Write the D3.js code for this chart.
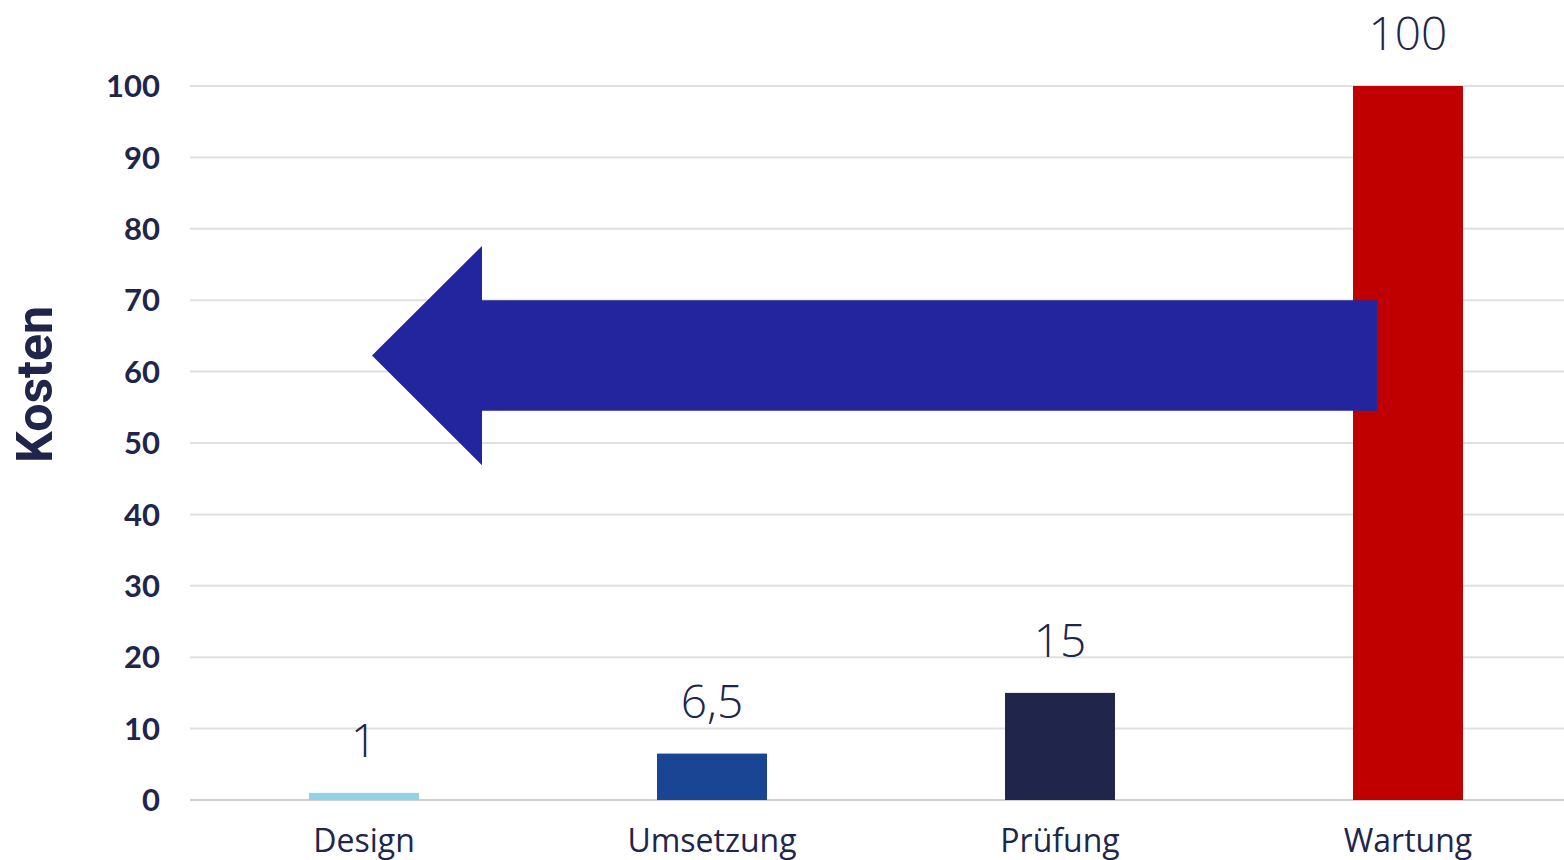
<!DOCTYPE html>
<html>
<head>
<meta charset="utf-8">
<script src="https://cdn.jsdelivr.net/npm/d3@7"></script>
<style>
  body { margin: 0; background: #fff; }
  svg { display: block; }
</style>
</head>
<body>
<div id="chart"></div>
<script>
const width = 1564;
const height = 860;

// Data
const categories = ['Design', 'Umsetzung', 'Prüfung', 'Wartung'];
const values = [1, 6.5, 15, 100];
const valueLabels = ['1', '6,5', '15', '100'];
const barColors = ['#92d2e6', '#1a4494', '#20264b', '#c00000'];
const yTicks = [0, 10, 20, 30, 40, 50, 60, 70, 80, 90, 100];

const margin = { top: 86, left: 190, bottom: 60 };
const textColor = '#20264b';

const svg = d3
  .select('#chart')
  .append('svg')
  .attr('width', width)
  .attr('height', height);

const xScale = d3
  .scaleBand()
  .domain(categories)
  .range([margin.left, margin.left + 348 * 4])
  .paddingInner(0.684)
  .paddingOuter(0.342);

const yScale = d3.scaleLinear().domain([0, 100]).range([800, margin.top]);

// Gridlines
svg
  .append('g')
  .selectAll('line')
  .data(yTicks)
  .enter()
  .append('line')
  .attr('x1', margin.left)
  .attr('x2', width)
  .attr('y1', (d) => yScale(d))
  .attr('y2', (d) => yScale(d))
  .attr('stroke', (d) => (d === 0 ? '#d0d0d0' : '#e0e0e0'))
  .attr('stroke-width', 2);

// Y tick labels
svg
  .append('g')
  .selectAll('text')
  .data(yTicks)
  .enter()
  .append('text')
  .attr('x', 160)
  .attr('y', (d) => yScale(d))
  .attr('dy', '0.36em')
  .attr('text-anchor', 'end')
  .style('font-family', 'Lato, sans-serif')
  .style('font-weight', 'bold')
  .style('font-size', '31px')
  .attr('fill', textColor)
  .text((d) => d);

// Axis title
svg
  .append('text')
  .attr('transform', `translate(52, ${yScale(58.2)}) rotate(-90)`)
  .attr('text-anchor', 'middle')
  .style('font-family', 'Roboto, sans-serif')
  .style('font-weight', 'bold')
  .style('font-size', '50px')
  .attr('fill', textColor)
  .text('Kosten');

// Bars
svg
  .append('g')
  .selectAll('rect')
  .data(values)
  .enter()
  .append('rect')
  .attr('x', (d, i) => xScale(categories[i]))
  .attr('y', (d) => yScale(d))
  .attr('width', xScale.bandwidth())
  .attr('height', (d) => yScale(0) - yScale(d))
  .attr('fill', (d, i) => barColors[i]);

// Value labels
svg
  .append('g')
  .selectAll('text')
  .data(values)
  .enter()
  .append('text')
  .attr('x', (d, i) => xScale(categories[i]) + xScale.bandwidth() / 2)
  .attr('y', (d) => yScale(d) - 36)
  .attr('text-anchor', 'middle')
  .style('font-family', '"Open Sans", sans-serif')
  .style('font-weight', 300)
  .style('font-size', '46px')
  .attr('fill', textColor)
  .text((d, i) => valueLabels[i]);

// Category labels
svg
  .append('g')
  .selectAll('text')
  .data(categories)
  .enter()
  .append('text')
  .attr('x', (d) => xScale(d) + xScale.bandwidth() / 2)
  .attr('y', 852)
  .attr('text-anchor', 'middle')
  .style('font-family', '"Open Sans", sans-serif')
  .style('font-size', '32px')
  .attr('fill', textColor)
  .text((d) => d);

// Big arrow pointing left
const arrowTop = yScale(70);
const arrowBottom = yScale(54.5);
const headTop = yScale(77.6);
const headBottom = yScale(46.9);
const arrowMid = (arrowTop + arrowBottom) / 2;
const tipX = 372;
const headX = 482;
const tailX = xScale('Wartung') + 24;

svg
  .append('path')
  .attr(
    'd',
    `M${tipX},${arrowMid} L${headX},${headTop} L${headX},${arrowTop} L${tailX},${arrowTop} ` +
      `L${tailX},${arrowBottom} L${headX},${arrowBottom} L${headX},${headBottom} Z`
  )
  .attr('fill', '#22259e');
</script>
</body>
</html>
